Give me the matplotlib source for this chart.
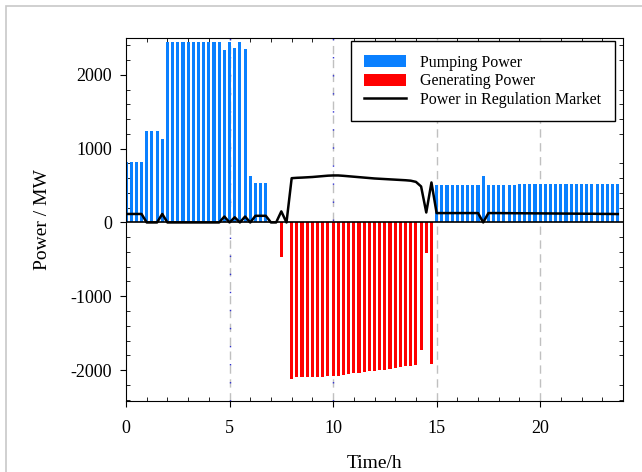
import numpy as np
import matplotlib.pyplot as plt
from matplotlib.patches import Rectangle

plt.rcParams['font.family'] = ['Liberation Serif', 'DejaVu Serif']
plt.rcParams['axes.unicode_minus'] = False

# quarter-hour time steps, 0 .. 23.75 h
t = np.arange(96) * 0.25

# pumping power (MW), one value per quarter hour
pumping = ([820] * 4 + [1240] * 3 + [1133] + [2445] * 11
           + [2340, 2445, 2370, 2445, 2354, 635, 540, 540, 540]
           + [0] * 32
           + [511] * 9 + [633] + [511] * 6 + [515] * 8 + [524] * 12)

# generating power (MW)
generating = ([0] * 30 + [-470, 0]
              + [-2118, -2100, -2100, -2100, -2100, -2095, -2091, -2086,
                 -2086, -2077, -2064, -2059, -2046, -2041, -2027, -2018,
                 -2009, -2005, -1996, -1982, -1969, -1960, -1951, -1942,
                 -1937, -1725, -415, -1923]
              + [0] * 36)

# power in regulation market (MW)
regulation = ([115] * 4 + [0, 0, 0, 115] + [0] * 11
              + [80, 0, 70, 0, 80, 0, 90, 90, 90, 0, 0, 150, 0]
              + [600, 605, 608, 612, 616, 622, 628, 634, 637, 637, 632, 626,
                 620, 614, 608, 602, 596, 592, 588, 584, 580, 576, 572, 566,
                 550, 488, 135, 542]
              + [127] * 9 + [0]
              + [127, 127, 127, 126, 126, 125, 125, 124, 124, 123, 123, 122, 122,
                 121, 121, 120, 120, 119, 119, 118, 118, 117, 116, 116, 115, 114])

fig = plt.figure(figsize=(6.42, 4.72), dpi=100)
fig.patches.append(Rectangle((6 / 642, -0.1), 1.2, 1 - 6 / 472 + 0.1,
                             transform=fig.transFigure, fill=False,
                             edgecolor='#c8c8c8', lw=1.2))
ax = fig.add_axes([126 / 642, 1 - 401 / 472, 497 / 642, 363 / 472])

# vertical guide lines
for x in [5, 10, 15, 20]:
    ax.axvline(x, color='#c0c0c0', lw=1, ls=(0, (6, 4)), zorder=0)
for x in [5, 10]:
    ax.axvline(x, color='#3030d0', lw=1, ls=(0, (1, 12)), zorder=0)

b1 = ax.bar(t, pumping, width=0.15, color='#0a80ff', label='Pumping Power', zorder=2)
b2 = ax.bar(t, generating, width=0.15, color='#ff0000', label='Generating Power', zorder=2)
ax.axhline(0, color='black', lw=1.2, zorder=3)
ln, = ax.plot(t, regulation, color='black', lw=1.8, label='Power in Regulation Market', zorder=4)

ax.set_xlim(0, 24)
ax.set_ylim(-2420, 2500)
ax.set_xticks([0, 5, 10, 15, 20])
ax.set_xticks(np.arange(0, 25, 1), minor=True)
ax.set_yticks([-2000, -1000, 0, 1000, 2000])
ax.set_yticks(np.arange(-2400, 2501, 200), minor=True)
ax.tick_params(which='major', direction='out', length=4, labelsize=13)
ax.tick_params(axis='x', which='major', pad=10)
ax.tick_params(axis='y', which='major', pad=6)
ax.tick_params(which='minor', direction='in', length=3, top=True, right=True)

ax.set_xlabel('Time/h', fontsize=14, labelpad=13)
ax.set_ylabel('Power / MW', fontsize=14, labelpad=14)

leg = ax.legend([b1, b2, ln], ['Pumping Power', 'Generating Power', 'Power in Regulation Market'],
                loc='upper right', fontsize=11.5, frameon=True, fancybox=False,
                edgecolor='black', framealpha=1, handlelength=2.6, handleheight=0.8,
                borderpad=0.85, borderaxespad=0.2, labelspacing=0.15, handletextpad=0.9,
                bbox_to_anchor=(0.99, 1.0))
leg.get_frame().set_linewidth(1.0)

fig.savefig('out.png', dpi=100)
